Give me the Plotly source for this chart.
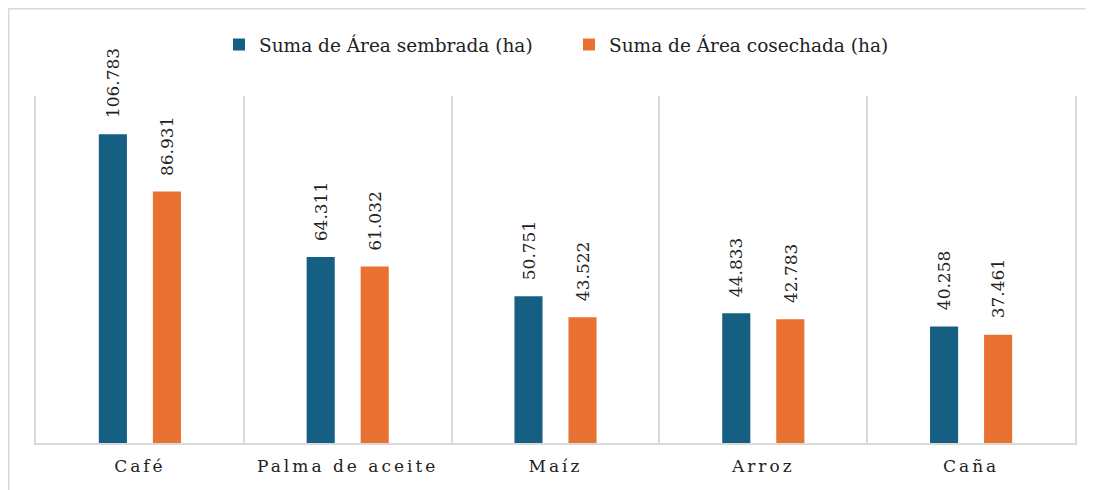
import plotly.graph_objects as go

categories = ["Café", "Palma de aceite", "Maíz", "Arroz", "Caña"]
sembrada = [106783, 64311, 50751, 44833, 40258]
cosechada = [86931, 61032, 43522, 42783, 37461]
series_names = ["Suma de Área sembrada (ha)", "Suma de Área cosechada (ha)"]
colors = ["#156082", "#E97132"]

FONT = "DejaVu Serif"

# page has an 8px body margin: figure origin is at (8, 8) in the window
OX, OY = 8, 8
PL, PR, PT, PB = 36 - OX, 1075 - OX, 96 - OY, 443 - OY
W, H = 1094, 490
PW, PH = PR - PL, PB - PT


def fmt(v):
    return f"{v:,}".replace(",", ".")


fig = go.Figure()
for name, vals, col in zip(series_names, [sembrada, cosechada], colors):
    fig.add_trace(go.Bar(
        x=categories, y=vals, name=name,
        marker=dict(color=col, line=dict(width=0)),
        hoverinfo="x+y",
    ))

annotations = []
for vals, shift in [(sembrada, -27), (cosechada, 27)]:
    for c, v in zip(categories, vals):
        annotations.append(dict(
            x=c, y=v, xref="x", yref="y", text=fmt(v), showarrow=False,
            textangle=-90, xanchor="center", yanchor="bottom",
            xshift=shift, yshift=14,
            font=dict(family=FONT, size=17, color="#222222"),
        ))

fig.update_layout(
    width=W, height=H,
    margin=dict(l=PL, r=W - PR, t=PT, b=H - PB),
    paper_bgcolor="white", plot_bgcolor="white",
    barmode="group", bargap=0.48, bargroupgap=0.48,
    font=dict(family=FONT, color="#222222"),
    showlegend=True,
    legend=dict(
        orientation="h", x=(233 - OX - 14 - PL) / PW, xanchor="left",
        y=1 + (PT - (45 - OY)) / PH, yanchor="middle", yref="paper",
        font=dict(family=FONT, size=18.5, color="#222222"),
        itemwidth=30, entrywidth=305,
        bgcolor="rgba(0,0,0,0)",
    ),
    annotations=annotations,
    shapes=[dict(
        type="rect", xref="paper", yref="paper",
        x0=(0.75 - PL) / PW, x1=1.2, y0=-0.4, y1=1 + (PT - 0.75) / PH,
        line=dict(color="#d9d9d9", width=1.5), fillcolor="rgba(0,0,0,0)",
        layer="below",
    )],
)

fig.update_xaxes(
    type="category", tickson="boundaries", showgrid=True,
    gridcolor="#d9d9d9", gridwidth=1.5,
    showline=True, linecolor="#d9d9d9", linewidth=1.5,
    ticks="", ticklabelstandoff=7,
    tickfont=dict(family=FONT, size=17, color="#222222"),
    fixedrange=True,
)
fig.update_yaxes(
    range=[0, 120000], showgrid=False, zeroline=False,
    showline=True, mirror=True, linecolor="#d9d9d9", linewidth=1.5,
    showticklabels=False, ticks="", fixedrange=True,
)

post = (
    "var s=document.createElement('style');"
    "s.innerHTML='.xtick text{letter-spacing:3px}';"
    "document.head.appendChild(s);"
)
fig.write_html("out.html", post_script=post)
